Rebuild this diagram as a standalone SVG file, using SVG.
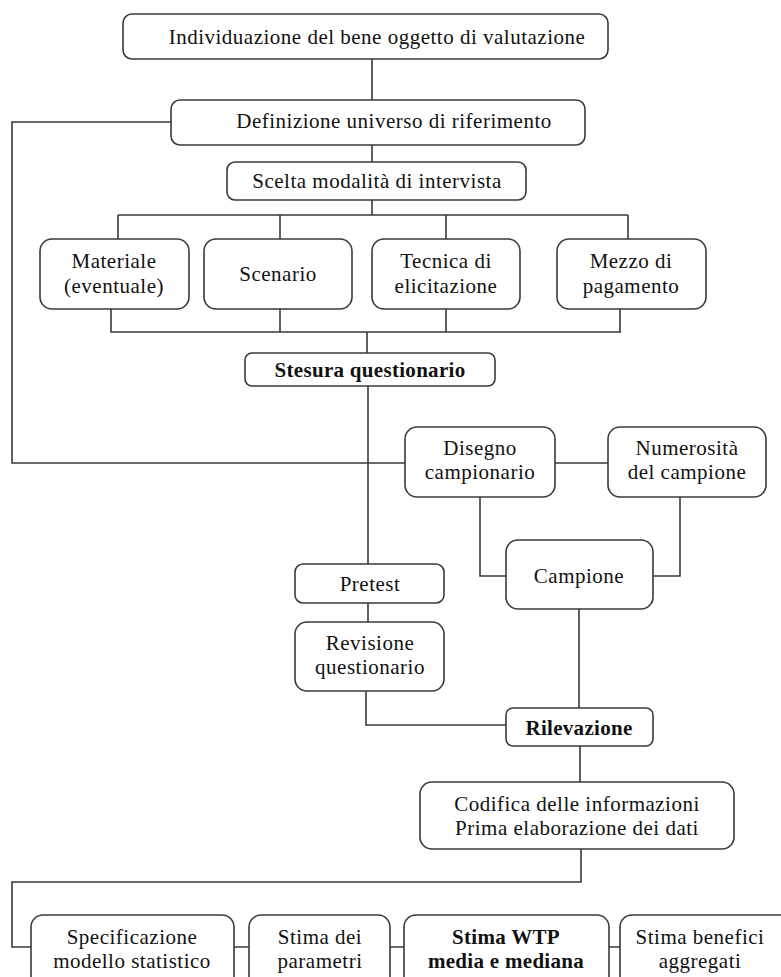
<svg xmlns="http://www.w3.org/2000/svg" width="781" height="977" viewBox="0 0 781 977">
<style>
.b{fill:#fff;stroke:#3a3a3a;stroke-width:1.6}
.c{fill:none;stroke:#3a3a3a;stroke-width:1.6}
text{font-family:"Liberation Serif","Times New Roman",serif;font-size:21px;letter-spacing:0.5px;fill:#111;text-anchor:middle}
.bd{font-weight:bold;letter-spacing:0.3px}
</style>
<rect width="781" height="977" fill="#fff"/>
<g id="connectors">
<path class="c" d="M372 59V100M372 145V162M372 200V215M118 215H628M118 215V239M280 215V239M446 215V239M628 215V239"/>
<path class="c" d="M171 122H12V463H405M555 463H608"/>
<path class="c" d="M111 309V332H621M280 309V332M446 309V332M620 309V332M367 332V353"/>
<path class="c" d="M368 386V564M368 603V622M366 691V725H506"/>
<path class="c" d="M480 497V576H506M680 497V576H653M579 609V708"/>
<path class="c" d="M580 746V782M581 849V882H12V947H31M234 947H249M390 947H404M609 947H620"/>
</g>
<g id="n1"><rect class="b" x="123" y="14" width="485" height="45" rx="9"/><text x="377" y="44">Individuazione del bene oggetto di valutazione</text></g>
<g id="n2"><rect class="b" x="171" y="100" width="414" height="45" rx="9"/><text x="394" y="128">Definizione universo di riferimento</text></g>
<g id="n3"><rect class="b" x="227" y="162" width="299" height="38" rx="8"/><text x="377" y="188">Scelta modalità di intervista</text></g>
<g id="n4"><rect class="b" x="40" y="239" width="149" height="70" rx="12"/><text x="114" y="268">Materiale</text><text x="114" y="293">(eventuale)</text></g>
<g id="n5"><rect class="b" x="204" y="239" width="148" height="70" rx="12"/><text x="278" y="281">Scenario</text></g>
<g id="n6"><rect class="b" x="372" y="239" width="148" height="70" rx="12"/><text x="446" y="268">Tecnica di</text><text x="446" y="293">elicitazione</text></g>
<g id="n7"><rect class="b" x="557" y="239" width="149" height="70" rx="12"/><text x="631" y="268">Mezzo di</text><text x="631" y="293">pagamento</text></g>
<g id="n8"><rect class="b" x="245" y="353" width="250" height="33" rx="7"/><text class="bd" x="370" y="377">Stesura questionario</text></g>
<g id="n9"><rect class="b" x="405" y="427" width="150" height="70" rx="12"/><text x="480" y="455">Disegno</text><text x="480" y="479">campionario</text></g>
<g id="n10"><rect class="b" x="608" y="427" width="158" height="70" rx="12"/><text x="687" y="455">Numerosità</text><text x="687" y="479">del campione</text></g>
<g id="n11"><rect class="b" x="506" y="540" width="147" height="69" rx="12"/><text x="579" y="583">Campione</text></g>
<g id="n12"><rect class="b" x="295" y="564" width="149" height="39" rx="8"/><text x="370" y="591">Pretest</text></g>
<g id="n13"><rect class="b" x="295" y="622" width="149" height="69" rx="12"/><text x="370" y="650">Revisione</text><text x="370" y="674">questionario</text></g>
<g id="n14"><rect class="b" x="506" y="708" width="147" height="38" rx="7"/><text class="bd" x="579" y="735">Rilevazione</text></g>
<g id="n15"><rect class="b" x="420" y="782" width="314" height="67" rx="12"/><text x="577" y="811">Codifica delle informazioni</text><text x="577" y="835">Prima elaborazione dei dati</text></g>
<g id="n16"><rect class="b" x="31" y="915" width="203" height="75" rx="12"/><text x="132" y="944">Specificazione</text><text x="132" y="968">modello statistico</text></g>
<g id="n17"><rect class="b" x="249" y="915" width="141" height="75" rx="12"/><text x="320" y="944">Stima dei</text><text x="320" y="968">parametri</text></g>
<g id="n18"><rect class="b" x="404" y="915" width="205" height="75" rx="12"/><text class="bd" x="506" y="944">Stima WTP</text><text class="bd" x="506" y="968">media e mediana</text></g>
<g id="n19"><rect class="b" x="620" y="915" width="180" height="75" rx="12"/><text x="700" y="944">Stima benefici</text><text x="700" y="968">aggregati</text></g>
</svg>
